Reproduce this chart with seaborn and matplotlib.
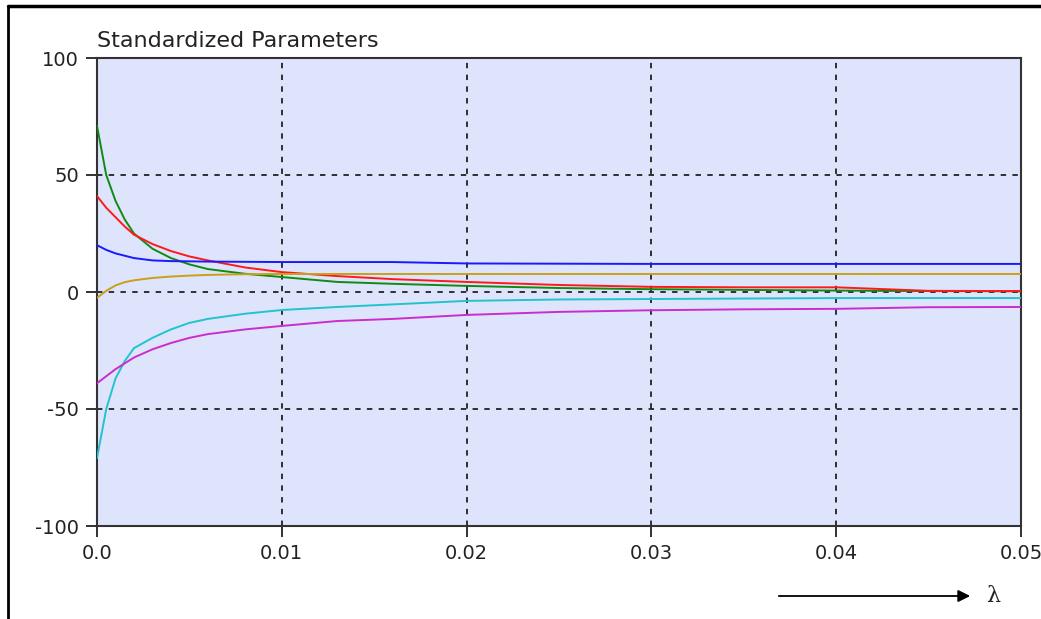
import pandas as pd
import numpy as np
import matplotlib.pyplot as plt
import seaborn as sns
from matplotlib.lines import Line2D

# Valori (lambda e parametri standardizzati)
lam = [0.0, 0.0005, 0.001, 0.0015, 0.002, 0.003, 0.004, 0.005, 0.006, 0.008,
       0.01, 0.013, 0.016, 0.02, 0.025, 0.03, 0.035, 0.04, 0.045, 0.05]

green = [71, 50, 39, 31, 25, 18.5, 14.5, 11.8, 9.8, 7.8,
         6.4, 4.3, 3.5, 2.6, 1.7, 1.2, 0.9, 0.6, 0.4, 0.3]
red = [41, 36, 32, 28, 24.5, 20.5, 17.5, 15.2, 13.5, 10.5,
       8.5, 6.8, 5.5, 4.3, 3.0, 2.2, 2.0, 2.0, 0.5, 0.4]
blue = [20, 18, 16.5, 15.5, 14.5, 13.5, 13.2, 13.1, 13.0, 12.9,
        12.8, 12.8, 12.8, 12.2, 12.1, 12.0, 12.0, 12.0, 12.0, 12.0]
gold = [-2.5, 0.5, 2.8, 4.2, 5.0, 6.0, 6.6, 7.0, 7.3, 7.6,
        7.7, 7.7, 7.7, 7.7, 7.7, 7.7, 7.7, 7.7, 7.7, 7.7]
cyan = [-71, -50, -37, -29.5, -24, -19.6, -16, -13.2, -11.5, -9.3,
        -7.7, -6.4, -5.3, -3.8, -3.2, -3.0, -2.8, -2.6, -2.6, -2.6]
magenta = [-39, -36, -33, -30.5, -28, -24.5, -21.8, -19.6, -18, -16,
           -14.5, -12.4, -11.5, -9.8, -8.5, -7.8, -7.4, -7.2, -6.5, -6.4]

series = {'green': green, 'red': red, 'blue': blue,
          'gold': gold, 'cyan': cyan, 'magenta': magenta}
colori = {'green': '#128a12', 'red': '#ff1a1a', 'blue': '#1a1aff',
          'gold': '#c9a01a', 'cyan': '#22c4cc', 'magenta': '#cc2ccc'}

df = pd.concat([pd.DataFrame({'lambda': lam, 'valore': v, 'serie': k})
                for k, v in series.items()], ignore_index=True)

sns.set_style('ticks')
plt.rcParams['font.family'] = ['DejaVu Sans']
plt.rcParams['axes.unicode_minus'] = False

fig = plt.figure(figsize=(10.41, 6.19), dpi=100)
ax = fig.add_axes([97 / 1041, 1 - 526 / 619, 924 / 1041, 468 / 619])
ax.set_facecolor('#dde4fc')

sns.lineplot(data=df, x='lambda', y='valore', hue='serie', palette=colori,
             linewidth=1.4, legend=False, ax=ax, zorder=3)

ax.set_xlim(0, 0.05)
ax.set_ylim(-100, 100)
ax.set_xticks([0, 0.01, 0.02, 0.03, 0.04, 0.05])
ax.set_xticklabels(['0.0', '0.01', '0.02', '0.03', '0.04', '0.05'])
ax.set_yticks([-100, -50, 0, 50, 100])
ax.set_xlabel('')
ax.set_ylabel('')
ax.tick_params(axis='both', direction='out', length=8, width=1.3,
               colors='#222222', labelsize=14, pad=5)
ax.grid(True, color='#222222', linestyle=(0, (3, 3.5)), linewidth=1.3, zorder=2)
for s in ax.spines.values():
    s.set_color('#333333')
    s.set_linewidth(1.5)

ax.set_title('Standardized Parameters', loc='left', fontsize=16,
             color='#222222', pad=8)

# freccia lambda sotto il grafico
ax.annotate('', xy=(973 / 1041, 1 - 596 / 619), xytext=(776 / 1041, 1 - 596 / 619),
            xycoords='figure fraction', textcoords='figure fraction',
            arrowprops=dict(arrowstyle='-|>', color='black', lw=1.3,
                            mutation_scale=18))
fig.text(993 / 1041, 1 - 596 / 619, 'λ', fontsize=16, family='DejaVu Serif',
         ha='center', va='center', color='#222222')

# cornice in alto e a sinistra
fig.add_artist(Line2D([8 / 1041, 8 / 1041], [0, 1 - 6 / 619],
                      transform=fig.transFigure, color='black', lw=2))
fig.add_artist(Line2D([8 / 1041, 1], [1 - 6 / 619, 1 - 6 / 619],
                      transform=fig.transFigure, color='black', lw=2.5))

plt.savefig('out.png', dpi=100)
